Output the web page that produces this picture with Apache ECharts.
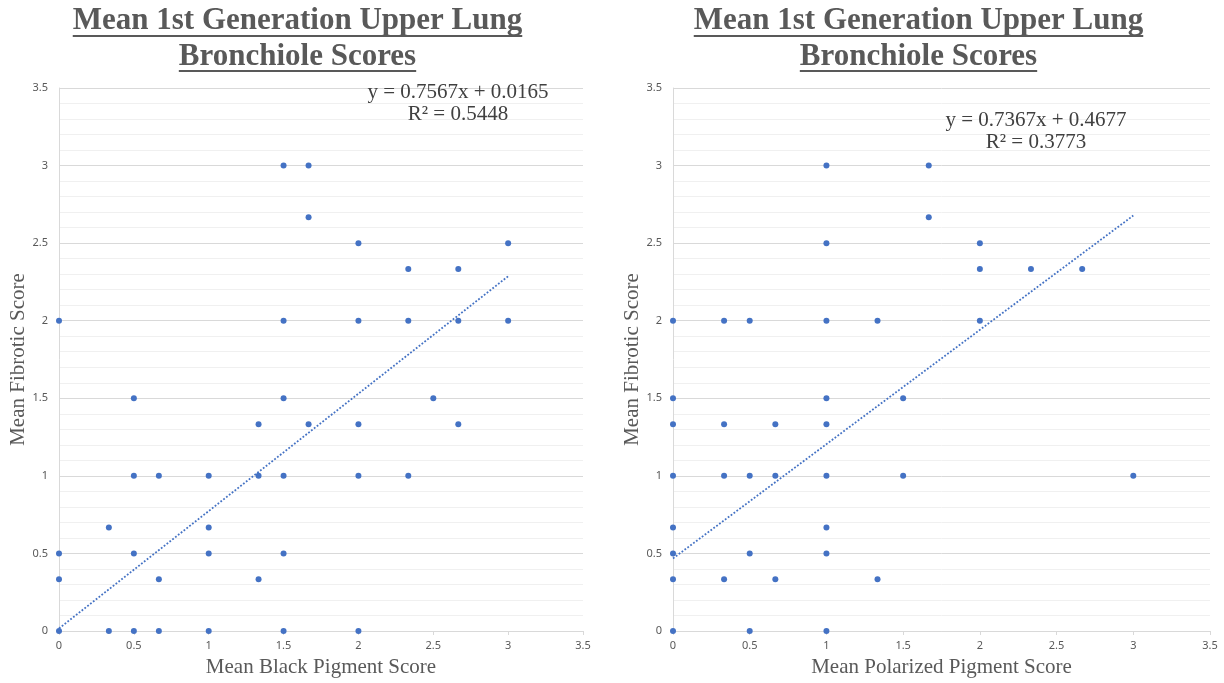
<!DOCTYPE html>
<html><head><meta charset="utf-8">
<script src="https://cdn.jsdelivr.net/npm/echarts@6/dist/echarts.min.js"></script>
<style>html,body{margin:0;padding:0;background:#fff}#c{width:1224px;height:683px}</style>
</head><body><div id="c"></div>
<script>
// ---------- data ----------
const titleLines = ['Mean 1st Generation Upper Lung', 'Bronchiole Scores'];
const yAxisName = 'Mean Fibrotic Score';
const xAxisNames = ['Mean Black Pigment Score', 'Mean Polarized Pigment Score'];

const blackPigment = [0, 1.5, 1.667, 1.667, 1.5, 2, 2.333, 2.667, 3, 2, 2.333, 2.667, 3,
  0.5, 1.5, 2.5, 1.333, 1.667, 2, 2.667, 0.5, 0.667, 1, 1.333, 1.5, 2, 2.333,
  0.333, 1, 0, 0.5, 1, 1.5, 0, 0.667, 1.333, 0, 0.333, 0.5, 0.667, 1, 1.5, 2];
const blackFibrotic = [2, 3, 3, 2.667, 2, 2.5, 2.333, 2.333, 2.5, 2, 2, 2, 2,
  1.5, 1.5, 1.5, 1.333, 1.333, 1.333, 1.333, 1, 1, 1, 1, 1, 1, 1,
  0.667, 0.667, 0.5, 0.5, 0.5, 0.5, 0.333, 0.333, 0.333, 0, 0, 0, 0, 0, 0, 0];

const polarPigment = [0, 0.333, 0.5, 1, 1, 1, 1.333, 1.667, 1.667, 2, 2, 2.333, 2.667, 2,
  0, 1, 1.5, 0, 0.333, 0.667, 1, 0, 0.333, 0.5, 0.667, 1, 1.5, 3,
  0, 1, 0, 0.5, 1, 0, 0.333, 0.667, 1.333, 0, 0.5, 1];
const polarFibrotic = [2, 2, 2, 3, 2.5, 2, 2, 3, 2.667, 2.5, 2.333, 2.333, 2.333, 2,
  1.5, 1.5, 1.5, 1.333, 1.333, 1.333, 1.333, 1, 1, 1, 1, 1, 1, 1,
  0.667, 0.667, 0.5, 0.5, 0.5, 0.333, 0.333, 0.333, 0.333, 0, 0, 0];

const blackTrend = { slope: 0.7567, intercept: 0.0165, r2: '0.5448', xFrom: 0, xTo: 3 };
const polarTrend = { slope: 0.7367, intercept: 0.4677, r2: '0.3773', xFrom: 0, xTo: 3 };

// ---------- helpers ----------
const BLUE = '#4472C4';
const pairs = (xs, ys) => xs.map((x, i) => [x, ys[i]]);
const trendLine = t => [[t.xFrom, t.slope * t.xFrom + t.intercept], [t.xTo, t.slope * t.xTo + t.intercept]];
const eqText = t => 'y = ' + t.slope.toFixed(4) + 'x + ' + t.intercept.toFixed(4);

const cv = document.createElement('canvas').getContext('2d');
const TITLE_FONT = 'bold 31px "Liberation Serif"';
cv.font = TITLE_FONT;
const measure = s => cv.measureText(s).width;

function titleGraphics(cx) {
  const els = [];
  const ys = [21, 57];
  const uy = [35, 70];
  titleLines.forEach((s, i) => {
    const w = measure(s);
    els.push({ type: 'text', z: 10, style: { text: s, x: cx, y: ys[i], font: TITLE_FONT, fill: '#595959', textAlign: 'center', textVerticalAlign: 'middle' } });
    els.push({ type: 'rect', z: 10, shape: { x: cx - w / 2, y: uy[i], width: w, height: 2 }, style: { fill: '#595959' } });
  });
  return els;
}
function eqGraphics(cx, cy, t) {
  const f = '21px "Liberation Serif"';
  return [
    { type: 'text', z: 10, style: { text: eqText(t), x: cx, y: cy, font: f, fill: '#404040', textAlign: 'center', textVerticalAlign: 'middle' } },
    { type: 'text', z: 10, style: { text: 'R\u00b2 = ' + t.r2, x: cx, y: cy + 22, font: f, fill: '#404040', textAlign: 'center', textVerticalAlign: 'middle' } }
  ];
}

const axisLabel = { fontSize: 11, color: '#595959', fontFamily: 'Noto Sans' };
const nameStyle = { fontFamily: 'Liberation Serif', fontSize: 21, color: '#595959' };
function xAx(idx, name) {
  return {
    gridIndex: idx, type: 'value', min: 0, max: 3.5, interval: 0.5,
    name: name, nameLocation: 'middle', nameGap: 26, nameTextStyle: nameStyle,
    axisLine: { show: true, lineStyle: { color: '#d9d9d9', width: 1 } },
    axisTick: { show: true, length: 4, lineStyle: { color: '#d9d9d9' } },
    axisLabel: Object.assign({ margin: 9 }, axisLabel),
    splitLine: { show: false }
  };
}
function yAx(idx) {
  return {
    gridIndex: idx, type: 'value', min: 0, max: 3.5, interval: 0.5,
    name: yAxisName, nameLocation: 'middle', nameGap: 30, nameTextStyle: nameStyle,
    axisLine: { show: true, lineStyle: { color: '#d9d9d9', width: 1 } },
    axisTick: { show: false },
    axisLabel: Object.assign({ margin: 11 }, axisLabel),
    splitLine: { show: true, lineStyle: { color: '#d9d9d9', width: 1 } },
    minorTick: { show: false, splitNumber: 5 },
    minorSplitLine: { show: true, lineStyle: { color: '#f0f0f0', width: 1 } }
  };
}
function scatter(idx, data) {
  return { type: 'scatter', xAxisIndex: idx, yAxisIndex: idx, data: data, symbolSize: 6, itemStyle: { color: BLUE, opacity: 1 }, z: 3 };
}
function trend(idx, t) {
  return { type: 'line', xAxisIndex: idx, yAxisIndex: idx, data: trendLine(t), showSymbol: false, symbol: 'none', silent: true,
    lineStyle: { type: 'dotted', width: 1.8, color: BLUE }, z: 2 };
}

const chart = echarts.init(document.getElementById('c'), null, { renderer: 'canvas' });
chart.setOption({
  animation: false,
  backgroundColor: '#fff',
  grid: [
    { left: 59, top: 88, width: 524, height: 544 },
    { left: 673, top: 88, width: 537, height: 544 }
  ],
  xAxis: [xAx(0, xAxisNames[0]), xAx(1, xAxisNames[1])],
  yAxis: [yAx(0), yAx(1)],
  series: [
    trend(0, blackTrend), scatter(0, pairs(blackPigment, blackFibrotic)),
    trend(1, polarTrend), scatter(1, pairs(polarPigment, polarFibrotic))
  ],
  graphic: [].concat(titleGraphics(297.5), titleGraphics(918.5), eqGraphics(458, 92, blackTrend), eqGraphics(1036, 120, polarTrend))
});
</script>
</body></html>
